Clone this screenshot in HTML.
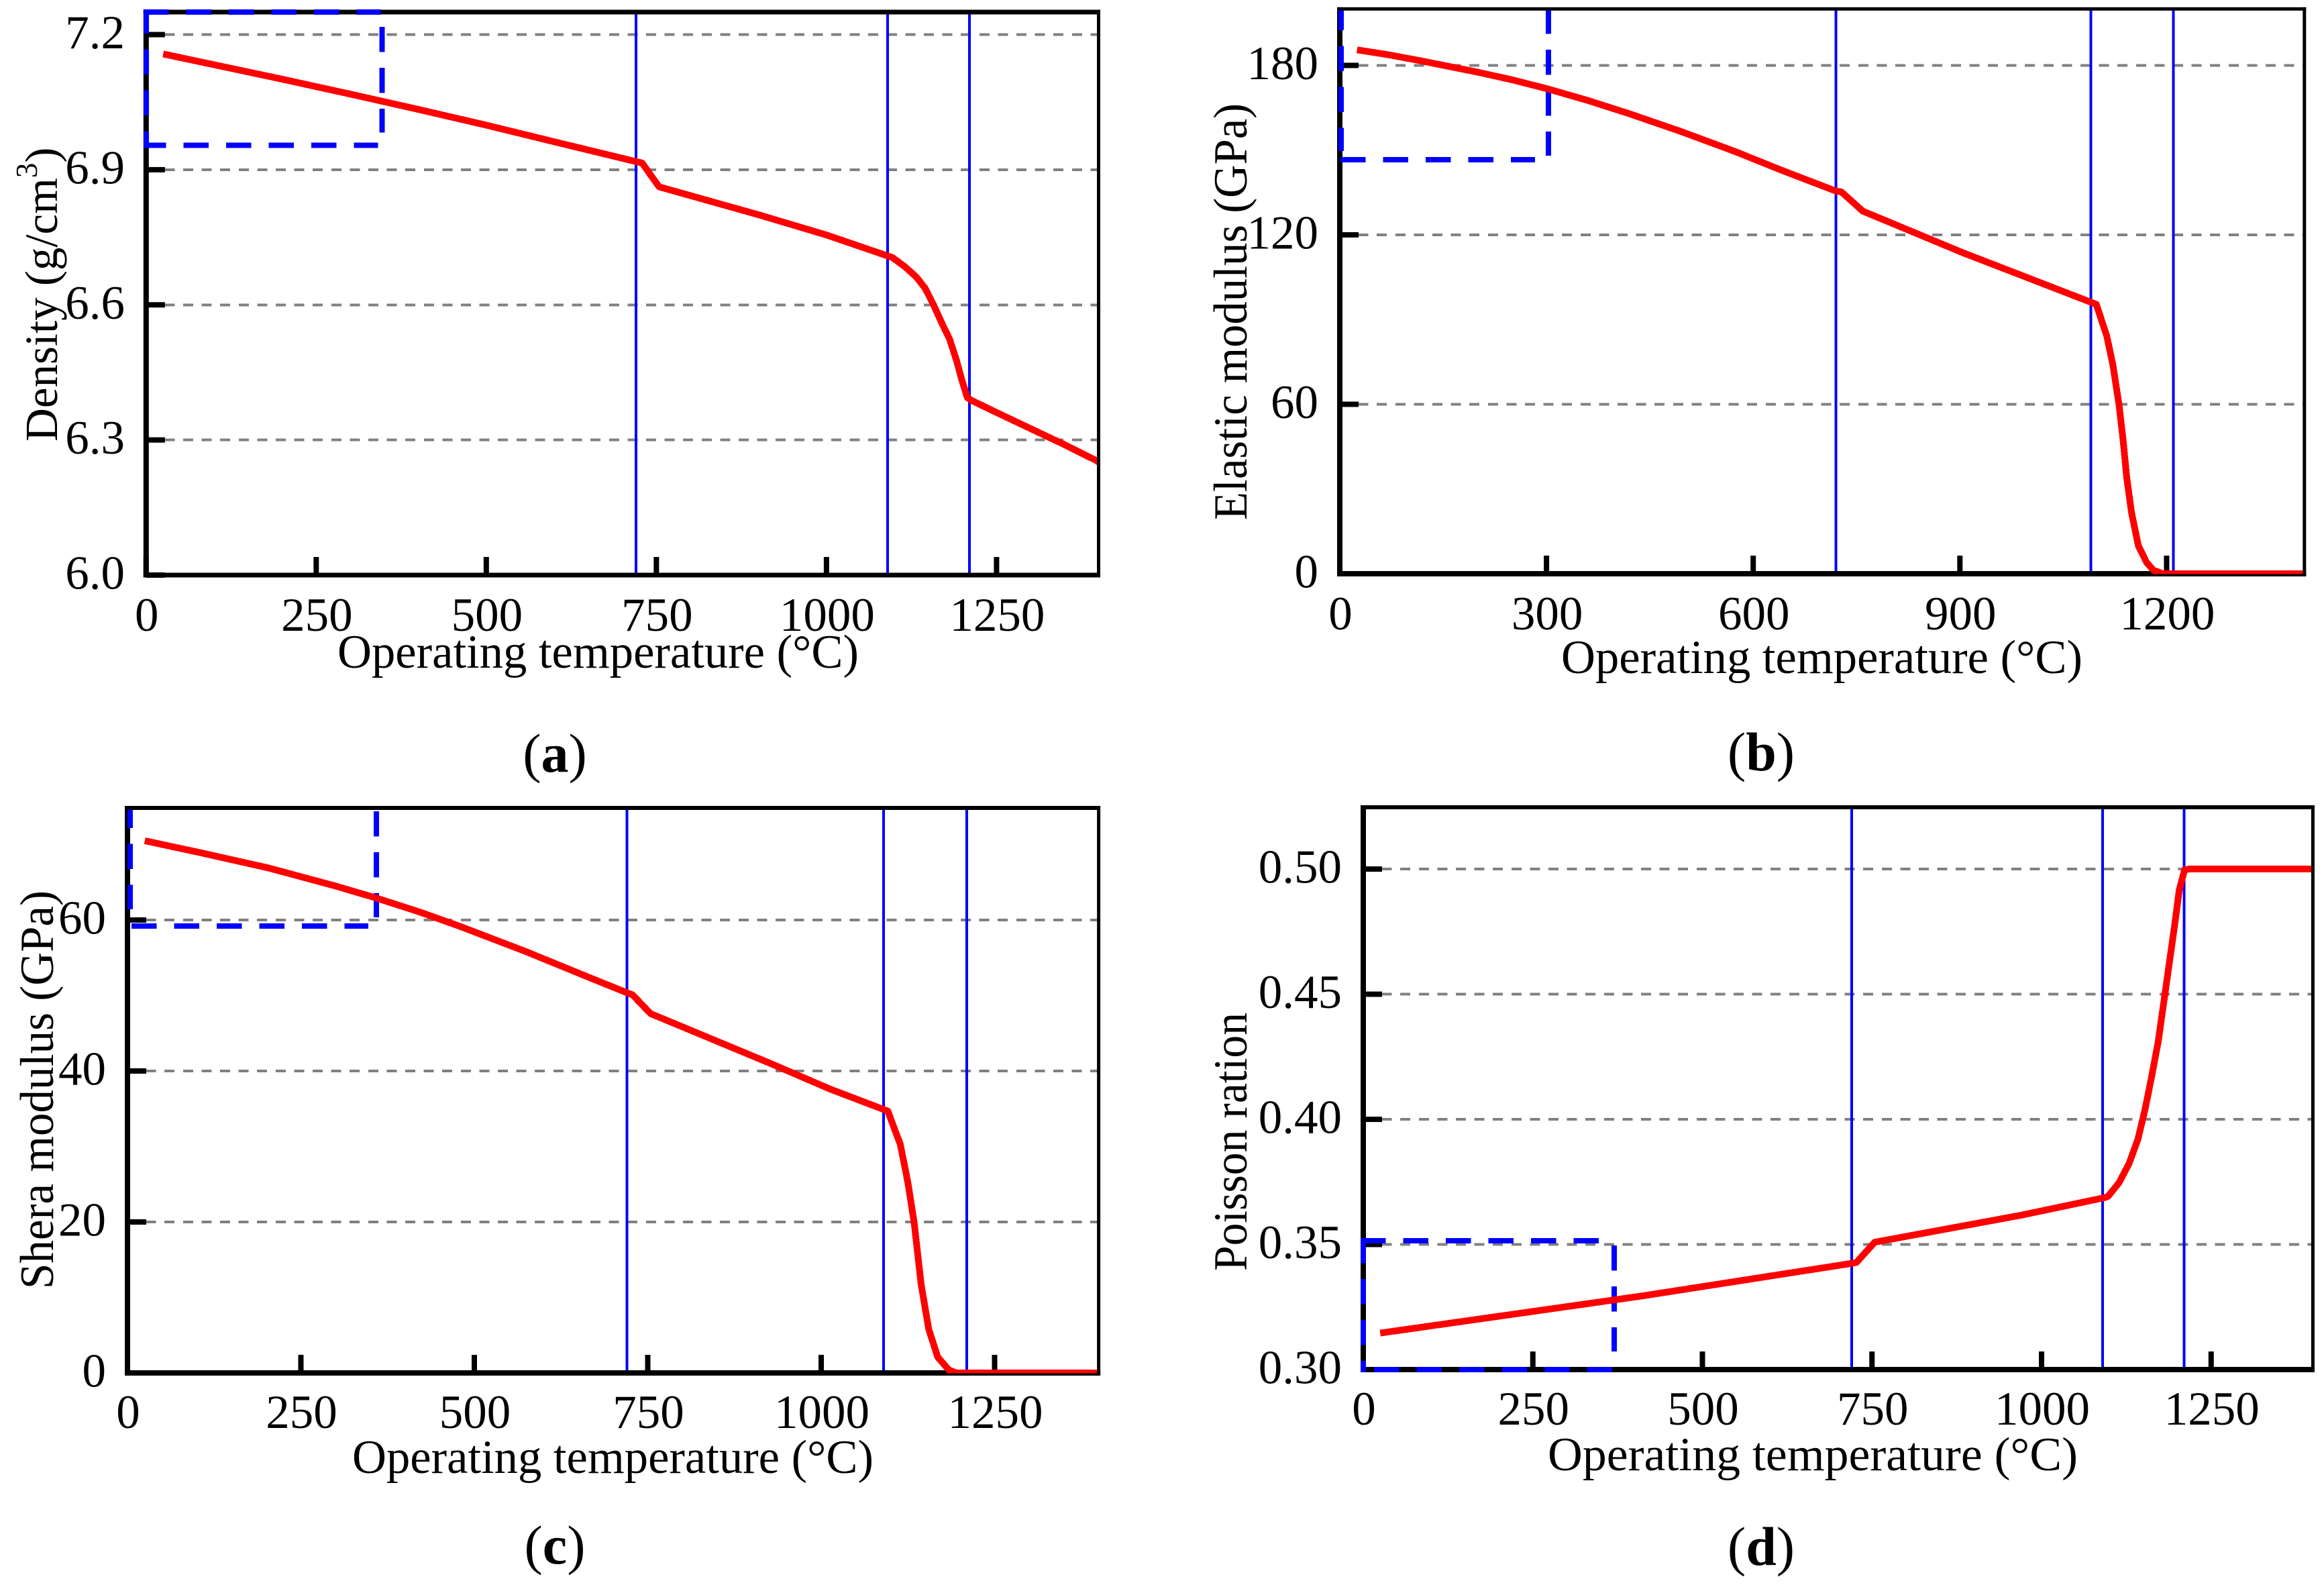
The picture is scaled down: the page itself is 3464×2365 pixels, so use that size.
<!DOCTYPE html>
<html lang="en">
<head>
<meta charset="utf-8">
<title>Material properties versus operating temperature</title>
<style>
html,body{margin:0;padding:0;background:#fff}
svg{display:block}
text{font-family:"Liberation Serif","Times New Roman",serif;fill:#000}
</style>
</head>
<body>
<svg id="figure" xmlns="http://www.w3.org/2000/svg" width="3464" height="2365" viewBox="0 0 3464 2365">
<rect x="0" y="0" width="3464" height="2365" fill="#fff"/>
<g id="panel-a"></g>
<g id="panel-b"></g>
<g id="panel-c"></g>
<g id="panel-d"></g>

<text x="503" y="995" font-size="71" textLength="777" lengthAdjust="spacingAndGlyphs">Operating temperature (°C)</text>
<text x="2327" y="1003" font-size="71" textLength="777" lengthAdjust="spacingAndGlyphs">Operating temperature (°C)</text>
<text x="525" y="2195" font-size="71" textLength="777" lengthAdjust="spacingAndGlyphs">Operating temperature (°C)</text>
<text x="2307" y="2191" font-size="71" textLength="790" lengthAdjust="spacingAndGlyphs">Operating temperature (°C)</text>

<text transform="translate(85 658) rotate(-90)" font-size="69">Density (g/cm<tspan dy="-30" font-size="45">3</tspan><tspan dy="30">)</tspan></text>
<text transform="translate(1858 775) rotate(-90)" font-size="71" textLength="621" lengthAdjust="spacingAndGlyphs">Elastic modulus (GPa)</text>
<text transform="translate(79 1921) rotate(-90)" font-size="71" textLength="594" lengthAdjust="spacingAndGlyphs">Shera modulus (GPa)</text>
<text transform="translate(1858 1894) rotate(-90)" font-size="71" textLength="385" lengthAdjust="spacingAndGlyphs">Poisson ration</text>

<text x="827" y="1150" font-size="82" text-anchor="middle">(<tspan font-weight="bold">a</tspan>)</text>
<text x="2625" y="1148" font-size="82" text-anchor="middle">(<tspan font-weight="bold">b</tspan>)</text>
<text x="827" y="2330" font-size="82" text-anchor="middle">(<tspan font-weight="bold">c</tspan>)</text>
<text x="2625" y="2332" font-size="82" text-anchor="middle">(<tspan font-weight="bold">d</tspan>)</text>
</svg>

<script>
// ---- chart data ----
const transitionTemps = [720, 1090, 1210];

const densityTemps = [25,100,200,300,400,500,600,720,729,754,900,1000,1097,1115,1132,1145,1158,1170,1181,1191,1199,1207,1213,1250,1296,1345,1397,1400];
const densityValues = [7.157,7.133,7.101,7.068,7.034,6.999,6.962,6.918,6.915,6.862,6.800,6.755,6.705,6.685,6.662,6.637,6.598,6.558,6.524,6.477,6.433,6.394,6.388,6.361,6.328,6.293,6.254,6.250];
const densityXTicks = [0,250,500,750,1000,1250];
const densityYTicks = [6.0,6.3,6.6,6.9,7.2];
const densityYLabels = ["6.0","6.3","6.6","6.9","7.2"];

const elasticTemps = [25,70,116,198,250,303,360,420,495,575,640,720,728,759,904,989,1098,1113,1122,1131,1137,1142,1149,1159,1171,1181,1195,1400];
const elasticValues = [185.5,183.8,181.7,177.7,174.9,171.6,167.6,162.9,156.6,149.4,143,135.5,135.2,128.4,113.7,105.7,95.4,84.3,74,59.8,47,34.4,21.8,9.9,4,1.2,0,0];
const elasticXTicks = [0,300,600,900,1200];
const elasticYTicks = [0,60,120,180];
const elasticYLabels = ["0","60","120","180"];

const shearTemps = [25,106,203,300,359,420,478,575,660,722,728,754,927,1013,1096,1114,1125,1134,1144,1155,1168,1184,1195,1400];
const shearValues = [70.5,68.9,66.9,64.5,62.9,61.1,59.2,55.8,52.6,50.3,50.1,47.6,41,37.6,34.7,30.3,25.2,19.9,11.8,5.8,2.1,0.4,0,0];
const shearXTicks = [0,250,500,750,1000,1250];
const shearYTicks = [0,20,40,60];
const shearYLabels = ["0","20","40","60"];

const poissonTemps = [25,413,719,727,754,970,1093,1098,1114,1129,1142,1152,1162,1172,1180,1188,1196,1203,1211,1218,1400];
const poissonValues = [0.3146,0.3295,0.3424,0.3428,0.3509,0.3617,0.3687,0.3692,0.3746,0.3823,0.392,0.4033,0.4166,0.4311,0.4464,0.4618,0.4772,0.4916,0.4997,0.5,0.5];
const poissonXTicks = [0,250,500,750,1000,1250];
const poissonYTicks = [0.30,0.35,0.40,0.45,0.50];
const poissonYLabels = ["0.30","0.35","0.40","0.45","0.50"];

const densityBox = [347, 6.954, 7.25];
const elasticBox = [303, 146.6, 200];
const shearBox = [359, 59.2, 74.85];
const poissonBox = [370, 0.30, 0.3515];

// ---- layout ----
const NS = 'http://www.w3.org/2000/svg';
const panels = [
  {id:'a', key:'density', left:217.8, right:1637.5, top:18, bottom:857, yMin:6, yMax:7.25,
   temps:densityTemps, values:densityValues, xTicks:densityXTicks, yTicks:densityYTicks, yLabels:densityYLabels, box:densityBox,
   frame:[7,5,7,8], xBase:940, yAnchor:186,
   boxLeft:[0,-3.3,3,2], boxTop:[-4,-2.4,0], boxBottom:[-4,-6,4], boxRight:[22,-19,0]},
  {id:'b', key:'elastic', left:1997, right:3434.8, top:13.3, bottom:855, yMin:0, yMax:200,
   temps:elasticTemps, values:elasticValues, xTicks:elasticXTicks, yTicks:elasticYTicks, yLabels:elasticYLabels, box:elasticBox,
   frame:[5,5,8,8], xBase:938, yAnchor:1965,
   boxLeft:[2,2.4,-13,8], boxTop:null, boxBottom:[1,-20,0], boxRight:[2.4,-6,2.5]},
  {id:'c', key:'shear', left:190, right:1637.6, top:1204, bottom:2046, yMin:0, yMax:74.85,
   temps:shearTemps, values:shearValues, xTicks:shearXTicks, yTicks:shearYTicks, yLabels:shearYLabels, box:shearBox,
   frame:[6,5,8,8], xBase:2128, yAnchor:158,
   boxLeft:[4,3,-25,10.5], boxTop:null, boxBottom:[6,-12,0], boxRight:[5,-13,0]},
  {id:'d', key:'poisson', left:2032, right:3447.4, top:1203, bottom:2041, yMin:0.30, yMax:0.5247,
   temps:poissonTemps, values:poissonValues, xTicks:poissonXTicks, yTicks:poissonYTicks, yLabels:poissonYLabels, box:poissonBox,
   frame:[6,5,8,8], xBase:2123, yAnchor:2000,
   boxLeft:[0,-4,4,0], boxTop:[-4,-18,0], boxBottom:[16,2,0], boxRight:[7,-27,0]}
];
const X_MAX = 1400;

function mk(tag, attrs, parent) {
  const el = document.createElementNS(NS, tag);
  for (const k in attrs) el.setAttribute(k, attrs[k]);
  parent.appendChild(el);
  return el;
}

function dashedEdge(parent, x1, y1, x2, y2, offset, period, name) {
  const el = mk('line', {x1:x1, y1:y1, x2:x2, y2:y2, stroke:'#0000ff', 'stroke-width':8,
    'stroke-dasharray':'37.5 ' + (period - 37.5), 'stroke-dashoffset':offset, 'shape-rendering':'crispEdges'}, parent);
  
  
  return el;
}

panels.forEach(function (p) {
  const g = document.getElementById('panel-' + p.id);
  const sx = function (t) { return p.left + t / X_MAX * (p.right - p.left); };
  const sy = function (v) { return p.bottom - (v - p.yMin) / (p.yMax - p.yMin) * (p.bottom - p.top); };

  // grid
  p.yTicks.forEach(function (v) {
    if (v === p.yMin) return;
    const line = mk('line', {x1:p.left, x2:p.right, y1:sy(v), y2:sy(v), stroke:'#808080', 'stroke-width':4,
      'stroke-dasharray':'15 12.6', 'shape-rendering':'crispEdges'}, g);
    
    
  });

  // transition lines
  transitionTemps.forEach(function (t) {
    const line = mk('line', {x1:sx(t), x2:sx(t), y1:p.top, y2:p.bottom, stroke:'#0000ff', 'stroke-width':4,
      'shape-rendering':'crispEdges'}, g);
    
    
  });

  // frame
  const f = p.frame;
  const sides = [
    [p.left - f[3]/2, p.top - f[0]/2, p.right - p.left + f[3]/2 + f[1]/2, f[0]],
    [p.right - f[1]/2, p.top - f[0]/2, f[1], p.bottom - p.top + f[0]/2 + f[2]/2],
    [p.left - f[3]/2, p.bottom - f[2]/2, p.right - p.left + f[3]/2 + f[1]/2, f[2]],
    [p.left - f[3]/2, p.top - f[0]/2, f[3], p.bottom - p.top + f[0]/2 + f[2]/2]
  ];
  sides.forEach(function (s) {
    const r = mk('rect', {x:s[0], y:s[1], width:s[2], height:s[3], fill:'#000'}, g);
    
    
  });

  // x ticks + labels
  p.xTicks.forEach(function (t) {
    const tick = mk('rect', {x:sx(t) - 4, y:p.bottom - 27, width:8, height:27, fill:'#000'}, g);
    
    
    const label = mk('text', {x:sx(t) + 1, y:p.xBase, 'font-size':71, 'text-anchor':'middle'}, g);
    label.textContent = String(t);
    
    
  });

  // y ticks + labels
  p.yTicks.forEach(function (v, i) {
    const tick = mk('rect', {x:p.left, y:sy(v) - 4, width:28, height:8, fill:'#000'}, g);
    
    
    const label = mk('text', {x:p.yAnchor, y:sy(v) + 20.5, 'font-size':71, 'text-anchor':'end'}, g);
    label.textContent = p.yLabels[i];
    
    
  });

  // dashed blue region box
  const bx = sx(p.box[0]), byLow = sy(p.box[1]), byHigh = sy(p.box[2]);
  const bl = p.boxLeft;
  if (bl.length === 4) {
    dashedEdge(g, p.left + bl[0], byHigh + bl[1], p.left + bl[0], byLow + bl[2], bl[3], 61, p.key + '-region-box-left');
  }
  if (p.boxTop) {
    dashedEdge(g, p.left + p.boxTop[0], byHigh, bx + p.boxTop[1], byHigh, p.boxTop[2], 63.5, p.key + '-region-box-top');
  }
  dashedEdge(g, p.left + p.boxBottom[0], byLow, bx + p.boxBottom[1], byLow, p.boxBottom[2], 63.5, p.key + '-region-box-bottom');
  dashedEdge(g, bx, byHigh + p.boxRight[0], bx, byLow + p.boxRight[1], p.boxRight[2], 61, p.key + '-region-box-right');

  // clip + series
  const defs = mk('defs', {}, g);
  const clip = mk('clipPath', {id:'clip-' + p.id}, defs);
  mk('rect', {x:p.left, y:p.top, width:p.right - p.left - p.frame[1]/2, height:p.bottom - p.top + 0.5}, clip);
  const d = p.temps.map(function (t, i) {
    return (i ? 'L' : 'M') + sx(t).toFixed(1) + ' ' + sy(p.values[i]).toFixed(1);
  }).join(' ');
  const curve = mk('path', {d:d, fill:'none', stroke:'#ff0000', 'stroke-width':10, 'stroke-linejoin':'round',
    'stroke-linecap':'butt', 'clip-path':'url(#clip-' + p.id + ')', 'shape-rendering':'crispEdges'}, g);
  
  
});
</script>
</body>
</html>
